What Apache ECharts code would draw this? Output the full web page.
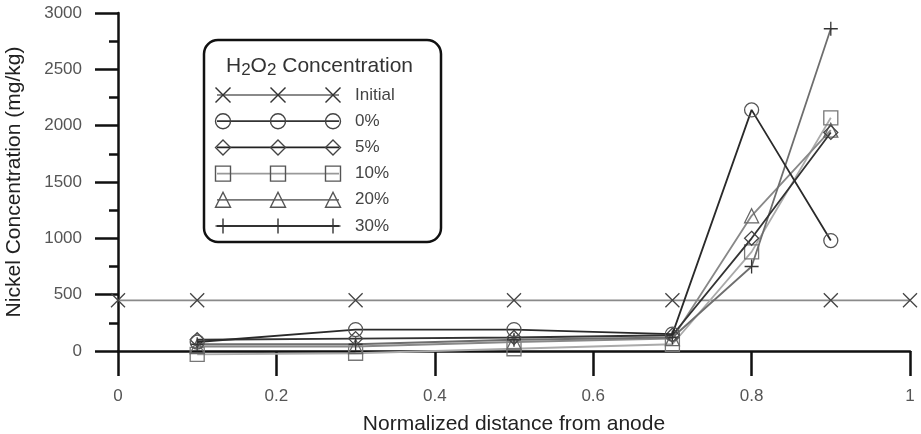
<!DOCTYPE html>
<html>
<head>
<meta charset="utf-8">
<script src="https://cdn.jsdelivr.net/npm/echarts@6/dist/echarts.min.js"></script>
<style>
  html, body { margin: 0; padding: 0; background: #fff; }
  #chart { width: 921px; height: 434px; }
</style>
</head>
<body>
<div id="chart"></div>
<script>
// distances where the treated samples were measured
const distances = [0.1, 0.3, 0.5, 0.7, 0.8, 0.9]
const initialX = [0, 0.1, 0.3, 0.5, 0.7, 0.9, 1.0]
const initialVals = [450, 450, 450, 450, 450, 450, 450]
const pct0 = [80, 190, 190, 150, 2140, 980]
const pct5 = [100, 110, 120, 140, 1000, 1940]
const pct10 = [-30, -20, 20, 60, 880, 2070]
const pct20 = [40, 40, 80, 110, 1200, 1960]
const pct30 = [60, 60, 100, 120, 750, 2860]

const FONT = 'Liberation Sans, Arial, sans-serif'
const SYM_X = 'path://M0,0L10,10M10,0L0,10'
const SYM_PLUS = 'path://M5,0L5,10M0,5L10,5'

function pairs(xs, ys) {
  return xs.map((x, i) => [x, ys[i]])
}

function mkSeries(name, xs, ys, symbol, lineColor, markColor, z) {
  return {
    name: name,
    type: 'line',
    data: pairs(xs, ys),
    symbol: symbol,
    symbolSize: 14,
    clip: false,
    z: z,
    lineStyle: { color: lineColor, width: 1.8 },
    itemStyle: { color: 'rgba(0,0,0,0)', borderColor: markColor, borderWidth: 1.3 },
    emphasis: { disabled: true }
  }
}

// legend box drawn by hand (three markers per sample line)
const legendRows = [
  { name: 'Initial', sym: 'x', line: '#8a8a8a', mark: '#333' },
  { name: '0%', sym: 'circle', line: '#333', mark: '#444' },
  { name: '5%', sym: 'diamond', line: '#222', mark: '#444' },
  { name: '10%', sym: 'rect', line: '#999', mark: '#555' },
  { name: '20%', sym: 'triangle', line: '#777', mark: '#555' },
  { name: '30%', sym: 'plus', line: '#333', mark: '#333' }
]

function legendMarker(kind, cx, cy, color) {
  const r = 7.5
  const st = { stroke: color, lineWidth: 1.4, fill: 'rgba(0,0,0,0)' }
  if (kind === 'x') {
    return [
      { type: 'line', shape: { x1: cx - r, y1: cy - r, x2: cx + r, y2: cy + r }, style: st },
      { type: 'line', shape: { x1: cx - r, y1: cy + r, x2: cx + r, y2: cy - r }, style: st }
    ]
  }
  if (kind === 'plus') {
    return [
      { type: 'line', shape: { x1: cx, y1: cy - r, x2: cx, y2: cy + r }, style: st },
      { type: 'line', shape: { x1: cx - r, y1: cy, x2: cx + r, y2: cy }, style: st }
    ]
  }
  if (kind === 'circle') return [{ type: 'circle', shape: { cx: cx, cy: cy, r: r }, style: st }]
  if (kind === 'rect') return [{ type: 'rect', shape: { x: cx - r, y: cy - r, width: 2 * r, height: 2 * r }, style: st }]
  if (kind === 'diamond') return [{ type: 'polygon', shape: { points: [[cx, cy - r], [cx + r, cy], [cx, cy + r], [cx - r, cy]] }, style: st }]
  if (kind === 'triangle') return [{ type: 'polygon', shape: { points: [[cx, cy - r], [cx + r, cy + r], [cx - r, cy + r]] }, style: st }]
  return []
}

function buildLegend() {
  const els = [
    { type: 'rect', shape: { x: 204, y: 40, width: 237, height: 202, r: 14 },
      style: { fill: '#fff', stroke: '#111', lineWidth: 2.5 }, z: 100 },
    { type: 'text', x: 226, y: 53, z: 101,
      style: {
        text: '{n|H}{s|2}{n|O}{s|2}{n| Concentration}',
        fill: '#333',
        rich: {
          n: { fontSize: 21, fontFamily: FONT, fill: '#333' },
          s: { fontSize: 17, fontFamily: FONT, fill: '#333', padding: [9, 0, 0, 0] }
        }
      } }
  ]
  legendRows.forEach((row, i) => {
    const y = 95 + i * 26.2
    els.push({ type: 'line', z: 101, shape: { x1: 217, y1: y, x2: 339, y2: y },
      style: { stroke: row.line, lineWidth: 1.8 } })
    ;[223, 278, 333].forEach(cx => {
      legendMarker(row.sym, cx, y, row.mark).forEach(m => { m.z = 102; els.push(m) })
    })
    els.push({ type: 'text', x: 355, y: y, z: 101,
      style: { text: row.name, fontSize: 17, fontFamily: FONT, fill: '#444', verticalAlign: 'middle' } })
  })
  return els
}

const chart = echarts.init(document.getElementById('chart'))

const option = {
  backgroundColor: '#fff',
  animation: false,
  textStyle: { fontFamily: FONT },
  grid: { left: 118, right: 11, top: 13, bottom: 83, outerBoundsMode: 'none' },
  xAxis: {
    type: 'value',
    min: 0,
    max: 1,
    interval: 0.2,
    name: 'Normalized distance from anode',
    nameLocation: 'middle',
    nameGap: 63,
    nameTextStyle: { fontSize: 21, color: '#222', fontFamily: FONT },
    axisLine: { show: true, onZero: false, lineStyle: { color: '#111', width: 2.5 } },
    axisTick: { show: true, inside: false, length: 25, lineStyle: { color: '#111', width: 2.5 } },
    axisLabel: { fontSize: 17, color: '#555', margin: 37, fontFamily: FONT },
    splitLine: { show: false }
  },
  yAxis: {
    type: 'value',
    min: 0,
    max: 3000,
    interval: 500,
    name: 'Nickel Concentration (mg/kg)',
    nameLocation: 'middle',
    nameGap: 93,
    nameTextStyle: { fontSize: 21, color: '#222', fontFamily: FONT },
    axisLine: { show: true, onZero: false, lineStyle: { color: '#111', width: 2.5 } },
    axisTick: { show: true, inside: false, length: 23, lineStyle: { color: '#111', width: 2.5 } },
    minorTick: { show: true, splitNumber: 2, length: 9, lineStyle: { color: '#111', width: 2.5 } },
    axisLabel: { fontSize: 17, color: '#555', margin: 36, fontFamily: FONT, formatter: v => String(v) },
    splitLine: { show: false }
  },
  series: [
    mkSeries('Initial', initialX, initialVals, SYM_X, '#8a8a8a', '#444', 2),
    mkSeries('10%', distances, pct10, 'rect', '#aaa', '#777', 3),
    mkSeries('20%', distances, pct20, 'triangle', '#888', '#666', 4),
    mkSeries('30%', distances, pct30, SYM_PLUS, '#6e6e6e', '#333', 5),
    mkSeries('5%', distances, pct5, 'diamond', '#333', '#444', 6),
    mkSeries('0%', distances, pct0, 'circle', '#2a2a2a', '#555', 7)
  ],
  graphic: buildLegend()
}

chart.setOption(option)
</script>
</body>
</html>
